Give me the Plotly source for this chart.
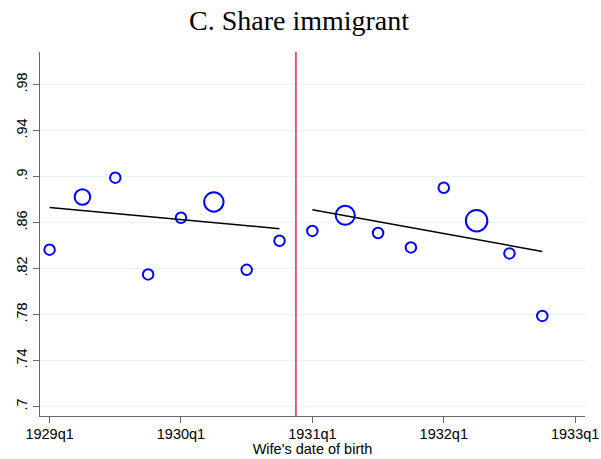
import numpy as np
import plotly.graph_objects as go

# ---- data ----
quarters_left = [0, 1, 2, 3, 4, 5, 6, 7]          # 1929q1 .. 1930q4
share_left = [0.8365, 0.8823, 0.8991, 0.8150, 0.8643, 0.8780, 0.8190, 0.8443]
weight_left = [1.0, 2.2, 1.0, 1.0, 1.0, 3.4, 1.0, 1.0]

quarters_right = [8, 9, 10, 11, 12, 13, 14, 15]   # 1931q1 .. 1932q4
share_right = [0.8528, 0.8664, 0.8510, 0.8385, 0.8904, 0.8617, 0.8333, 0.7789]
weight_right = [1.0, 3.3, 1.0, 1.0, 1.0, 4.2, 1.0, 1.0]

fit_left_x = [0, 7]
fit_left_y = [0.8733, 0.8548]
fit_right_x = [8, 15]
fit_right_y = [0.8713, 0.8350]

cutoff = 7.5

x_tick_vals = [0, 4, 8, 12, 16]
x_tick_text = ["1929q1", "1930q1", "1931q1", "1932q1", "1933q1"]
y_tick_vals = [0.70, 0.74, 0.78, 0.82, 0.86, 0.90, 0.94, 0.98]
y_tick_text = [".7", ".74", ".78", ".82", ".86", ".9", ".94", ".98"]

BASE = 10.5


def sizes(w):
    return [BASE * np.sqrt(v) for v in w]


fig = go.Figure()
marker_style = dict(symbol="circle-open", color="#0000FF", opacity=1,
                    line=dict(width=2.0, color="#0000FF"))

fig.add_trace(go.Scatter(x=quarters_left, y=share_left, mode="markers",
                         marker=dict(size=sizes(weight_left), **marker_style),
                         showlegend=False, hoverinfo="skip"))
fig.add_trace(go.Scatter(x=quarters_right, y=share_right, mode="markers",
                         marker=dict(size=sizes(weight_right), **marker_style),
                         showlegend=False, hoverinfo="skip"))
fig.add_trace(go.Scatter(x=fit_left_x, y=fit_left_y, mode="lines",
                         line=dict(color="black", width=1.5), showlegend=False))
fig.add_trace(go.Scatter(x=fit_right_x, y=fit_right_y, mode="lines",
                         line=dict(color="black", width=1.5), showlegend=False))

fig.add_shape(type="line", xref="x", yref="paper", x0=cutoff, x1=cutoff, y0=0, y1=1,
              line=dict(color="#C8103C", width=1.3))

fig.update_layout(
    width=601, height=459,
    margin=dict(l=40, r=16, t=52, b=43),
    paper_bgcolor="white", plot_bgcolor="white",
    title=dict(text="C. Share immigrant", x=299 / 601, xanchor="center",
               y=1 - 20 / 459, yanchor="middle", yref="container",
               font=dict(family="Liberation Serif", size=28, color="black")),
    font=dict(family="Liberation Sans", size=14, color="black"),
)
fig.update_xaxes(range=[-0.292, 16.30], tickvals=x_tick_vals, ticktext=x_tick_text,
                 automargin=False,
                 showgrid=False, zeroline=False, showline=True, linecolor="#6a6a6a",
                 linewidth=1.2, ticks="outside", ticklen=6, tickcolor="#6a6a6a",
                 tickfont=dict(size=14.5), ticklabelstandoff=-2,
                 title=dict(text="Wife's date of birth", font=dict(size=14.5), standoff=0))
fig.update_yaxes(range=[0.6919, 1.0084], tickvals=y_tick_vals, ticktext=y_tick_text,
                 automargin=False,
                 showgrid=True, gridcolor="#EAF2F3", gridwidth=1, zeroline=False,
                 showline=True, linecolor="#6a6a6a", linewidth=1.2, ticks="outside",
                 ticklen=6, tickcolor="#6a6a6a", tickangle=-90, tickfont=dict(size=14.5))

fig.write_html("out.html")
